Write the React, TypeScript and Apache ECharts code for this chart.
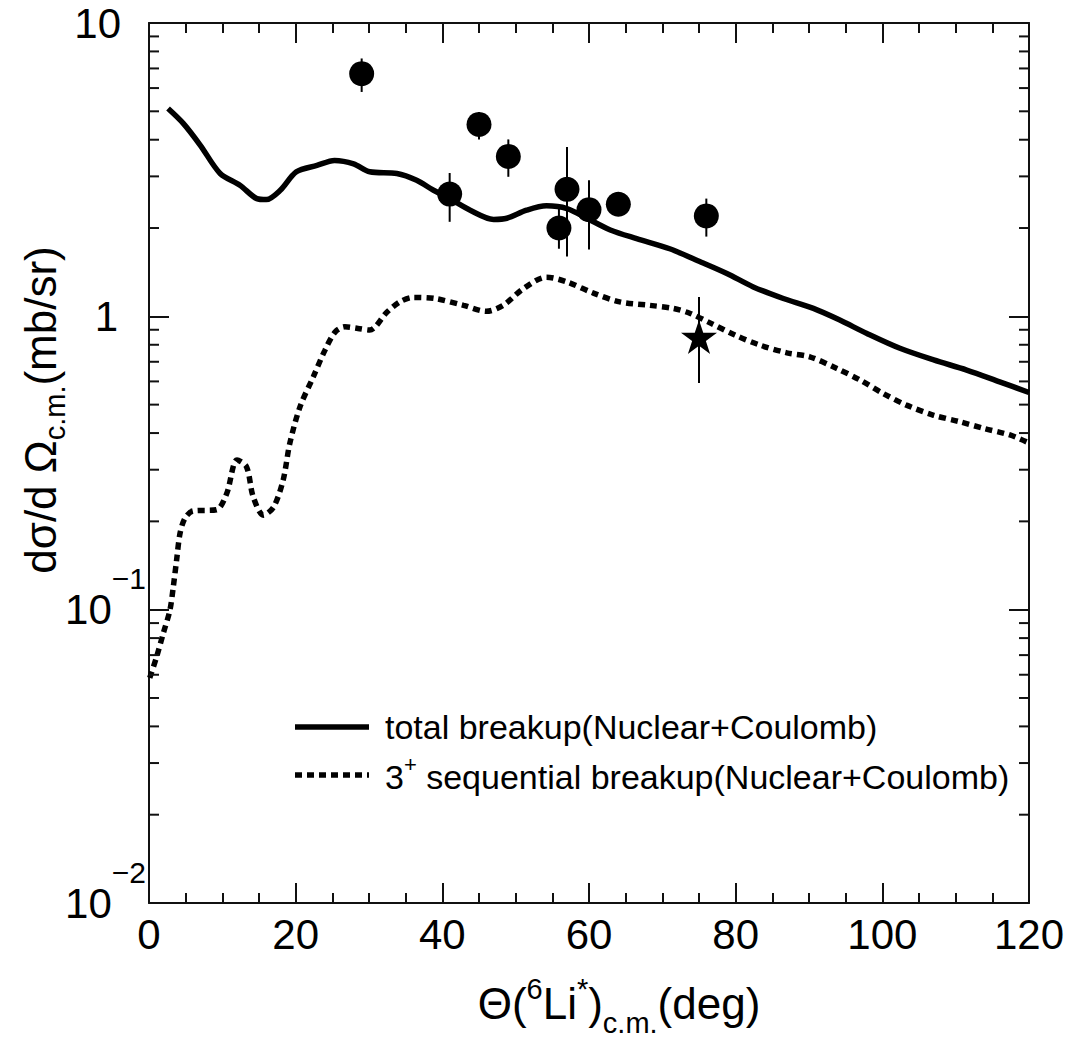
import React, { useEffect, useRef } from "react";
import * as echarts from "echarts";

// ---- data ----
const xTickValues = [0, 20, 40, 60, 80, 100, 120];
const yDecades = [0.01, 0.1, 1];
const minorMultipliers = [2, 3, 4, 5, 6, 7, 8, 9];

// total breakup (Nuclear+Coulomb), solid curve
const totalAngles = [2.6, 4.7, 7.0, 9.7, 12.4, 14.7, 16.0, 17.9, 20.1, 22.9, 25.3, 27.9, 30.1, 33.8, 36.5, 38.8, 41.0, 43.8, 47.0, 48.8, 51.5, 54.2, 57.0, 59.7, 62.9, 66.5, 71.0, 75.3, 78.8, 82.4, 86.5, 90.6, 94.2, 97.9, 102.4, 107.0, 111.5, 116.0, 120.0];
const totalValues = [5.11, 4.54, 3.83, 3.07, 2.8, 2.52, 2.5, 2.69, 3.11, 3.27, 3.4, 3.31, 3.11, 3.07, 2.91, 2.69, 2.52, 2.3, 2.14, 2.16, 2.3, 2.38, 2.33, 2.16, 1.97, 1.84, 1.7, 1.53, 1.4, 1.26, 1.15, 1.064, 0.971, 0.874, 0.778, 0.71, 0.656, 0.598, 0.55];

// 3+ sequential breakup (Nuclear+Coulomb), dotted curve
const seqAngles = [0.1, 1.05, 1.95, 2.86, 3.32, 3.77, 4.23, 4.9, 6.0, 9.2, 10.6, 12.0, 13.3, 14.2, 15.6, 17.0, 18.3, 19.2, 20.6, 22.4, 24.0, 25.4, 26.7, 28.5, 30.1, 32.4, 34.2, 36.0, 39.0, 42.9, 46.0, 48.3, 51.0, 54.2, 57.0, 60.6, 64.2, 68.3, 71.5, 73.8, 76.5, 79.9, 83.3, 87.0, 90.1, 93.8, 97.0, 100.1, 103.3, 107.0, 110.6, 113.8, 117.4, 120.0];
const seqValues = [0.0585, 0.0692, 0.0831, 0.0998, 0.12, 0.148, 0.182, 0.205, 0.217, 0.219, 0.249, 0.324, 0.307, 0.243, 0.21, 0.224, 0.277, 0.369, 0.492, 0.622, 0.767, 0.885, 0.921, 0.909, 0.898, 1.03, 1.12, 1.16, 1.15, 1.09, 1.04, 1.09, 1.24, 1.36, 1.31, 1.2, 1.12, 1.09, 1.064, 1.023, 0.95, 0.863, 0.798, 0.751, 0.728, 0.664, 0.606, 0.546, 0.498, 0.46, 0.437, 0.415, 0.394, 0.37];

// experimental points (filled circles)
const dataAngles = [29.0, 41.0, 45.0, 49.0, 55.9, 57.0, 60.0, 64.0, 76.0];
const dataValues = [6.72, 2.61, 4.51, 3.51, 2.0, 2.71, 2.31, 2.41, 2.2];
const dataLow = [5.82, 2.1, 4.01, 2.99, 1.7, 1.6, 1.69, 2.41, 1.87];
const dataHigh = [7.57, 3.08, 4.97, 4.01, 2.35, 3.78, 2.91, 2.41, 2.52];

// star point
const starAngles = [75.0];
const starValues = [0.851];
const starLow = [0.592];
const starHigh = [1.165];

const FONT = "Liberation Sans, Arial, Helvetica, sans-serif";
const INK = "#111";

const STAR =
  "path://M50,0 L61.2,34.5 L97.6,34.5 L68.2,55.9 L79.4,90.5 L50,69.1 L20.6,90.5 L31.8,55.9 L2.4,34.5 L38.8,34.5 Z";

export default function App() {
  const ref = useRef<HTMLDivElement>(null);

  useEffect(() => {
    if (!ref.current) return;
    const chart = echarts.init(ref.current, undefined, { renderer: "svg" });

    const total = totalAngles.map((a, i) => [a, totalValues[i]]);
    const seq = seqAngles.map((a, i) => [a, seqValues[i]]);
    const pts = dataAngles.map((a, i) => [a, dataValues[i]]);
    const star = starAngles.map((a, i) => [a, starValues[i]]);
    const errs = [
      ...dataAngles.map((a, i) => [a, dataValues[i], dataLow[i], dataHigh[i]]),
      ...starAngles.map((a, i) => [a, starValues[i], starLow[i], starHigh[i]]),
    ].filter((d) => d[2] !== d[3]);
    const minorVals: number[][] = [];
    yDecades.forEach((d) => minorMultipliers.forEach((m) => minorVals.push([0, d * m])));

    const tickLine = { color: INK, width: 2 };

    const yLabelFormatter = (v: number) => {
      const e = Math.round(Math.log10(v));
      if (e === 1) return "{p10|10}";
      if (e === 0) return "{p1|1}";
      return "{b|10}{sup|\u2212" + Math.abs(e) + "}";
    };

    const xAxisBase = {
      type: "value" as const,
      min: 0,
      max: 120,
      interval: 20,
      axisLine: { show: true, onZero: false, lineStyle: tickLine },
      axisTick: { show: true, inside: true, length: 20, lineStyle: tickLine },
      minorTick: { show: true, splitNumber: 4, length: 10, lineStyle: tickLine },
      splitLine: { show: false },
      minorSplitLine: { show: false },
    };
    const yAxisBase = {
      type: "log" as const,
      logBase: 10,
      min: 0.01,
      max: 10,
      axisLine: { show: true, onZero: false, lineStyle: tickLine },
      axisTick: { show: true, inside: true, length: 20, lineStyle: tickLine },
      splitLine: { show: false },
    };

    chart.setOption({
      animation: false,
      backgroundColor: "#ffffff",
      grid: { left: 149, top: 23, width: 880, height: 880, containLabel: false },
      xAxis: [
        {
          ...xAxisBase,
          position: "bottom",
          axisLabel: {
            show: true,
            fontSize: 42,
            fontFamily: FONT,
            color: "#000",
            margin: 10,
            showMinLabel: true,
            showMaxLabel: true,
          },
        },
        { ...xAxisBase, position: "top", axisLabel: { show: false } },
      ],
      yAxis: [
        {
          ...yAxisBase,
          position: "left",
          axisLabel: {
            show: true,
            margin: 3,
            color: "#000",
            fontFamily: FONT,
            formatter: yLabelFormatter,
            rich: {
              b: { fontSize: 42, fontFamily: FONT, color: "#000" },
              p10: { fontSize: 42, fontFamily: FONT, color: "#000", padding: [0, 25, 0, 0] },
              p1: { fontSize: 42, fontFamily: FONT, color: "#000", padding: [0, 28, 0, 0] },
              sup: { fontSize: 30, fontFamily: FONT, color: "#000", padding: [0, 0, 62, 0] },
            },
          },
        },
        { ...yAxisBase, position: "right", axisLabel: { show: false } },
      ],
      series: [
        {
          name: "total breakup(Nuclear+Coulomb)",
          type: "line",
          data: total,
          showSymbol: false,
          smooth: 0.3,
          lineStyle: { color: "#000", width: 5.5 },
          z: 3,
        },
        {
          name: "3+ sequential breakup(Nuclear+Coulomb)",
          type: "line",
          data: seq,
          showSymbol: false,
          smooth: 0.3,
          lineStyle: { color: "#000", width: 5.5, type: [7, 5], cap: "butt" },
          z: 3,
        },
        {
          type: "custom",
          data: errs,
          encode: { x: 0, y: 1 },
          z: 4,
          renderItem: (_p: any, api: any) => {
            const x = api.value(0);
            const a = api.coord([x, api.value(2)]);
            const b = api.coord([x, api.value(3)]);
            return {
              type: "line",
              shape: { x1: a[0], y1: a[1], x2: b[0], y2: b[1] },
              style: { stroke: "#000", lineWidth: 2 },
            };
          },
        },
        {
          type: "scatter",
          data: pts,
          symbol: "circle",
          symbolSize: 25,
          itemStyle: { color: "#000", opacity: 1 },
          z: 5,
        },
        {
          type: "scatter",
          data: star,
          symbol: STAR,
          symbolSize: [36, 34],
          itemStyle: { color: "#000", opacity: 1 },
          z: 5,
        },
        {
          type: "custom",
          data: minorVals,
          encode: { x: 0, y: 1 },
          clip: false,
          z: 6,
          renderItem: (params: any, api: any) => {
            const cs = params.coordSys;
            const y = api.coord([0, api.value(1)])[1];
            return {
              type: "group",
              children: [
                {
                  type: "line",
                  shape: { x1: cs.x, y1: y, x2: cs.x + 10, y2: y },
                  style: { stroke: INK, lineWidth: 2 },
                },
                {
                  type: "line",
                  shape: { x1: cs.x + cs.width - 10, y1: y, x2: cs.x + cs.width, y2: y },
                  style: { stroke: INK, lineWidth: 2 },
                },
              ],
            };
          },
        },
      ],
      graphic: [
        // legend
        {
          type: "line",
          shape: { x1: 295, y1: 727, x2: 369, y2: 727 },
          style: { stroke: "#000", lineWidth: 5.5 },
        },
        {
          type: "text",
          x: 385,
          y: 727,
          style: {
            text: "total breakup(Nuclear+Coulomb)",
            fontSize: 34,
            fontFamily: FONT,
            fill: "#000",
            align: "left",
            verticalAlign: "middle",
          },
        },
        {
          type: "line",
          shape: { x1: 295, y1: 775, x2: 369, y2: 775 },
          style: { stroke: "#000", lineWidth: 5.5, lineDash: [7, 5] },
        },
        {
          type: "text",
          x: 385,
          y: 777,
          style: {
            text: "{b|3}{s|+}{b| sequential breakup(Nuclear+Coulomb)}",
            fontFamily: FONT,
            fill: "#000",
            align: "left",
            verticalAlign: "middle",
            rich: {
              b: { fontSize: 34, fontFamily: FONT, fill: "#000" },
              s: { fontSize: 22, fontFamily: FONT, fill: "#000", padding: [0, 0, 26, 0] },
            },
          },
        },
        // x-axis title
        {
          type: "text",
          x: 619,
          y: 1003,
          style: {
            text: "{b|\u0398(}{sup|6}{b|Li}{sup|*}{b|)}{sub|c.m.}{b|(deg)}",
            fontFamily: FONT,
            fill: "#000",
            align: "center",
            verticalAlign: "middle",
            rich: {
              b: { fontSize: 44, fontFamily: FONT, fill: "#000" },
              sup: { fontSize: 29, fontFamily: FONT, fill: "#000", padding: [0, 0, 28, 0] },
              sub: { fontSize: 29, fontFamily: FONT, fill: "#000", padding: [40, 0, 0, 0] },
            },
          },
        },
        // y-axis title
        {
          type: "text",
          x: 40,
          y: 410,
          rotation: Math.PI / 2,
          style: {
            text: "{b|d\u03c3/d \u03a9}{sub|c.m.}{b|(mb/sr)}",
            fontFamily: FONT,
            fill: "#000",
            align: "center",
            verticalAlign: "middle",
            rich: {
              b: { fontSize: 44, fontFamily: FONT, fill: "#000" },
              sub: { fontSize: 29, fontFamily: FONT, fill: "#000", padding: [30, 0, 0, 0] },
            },
          },
        },
      ],
    });

    return () => chart.dispose();
  }, []);

  return (
    <div
      ref={ref}
      style={{ position: "absolute", left: 0, top: 0, width: 1072, height: 1039, background: "#fff" }}
    />
  );
}
